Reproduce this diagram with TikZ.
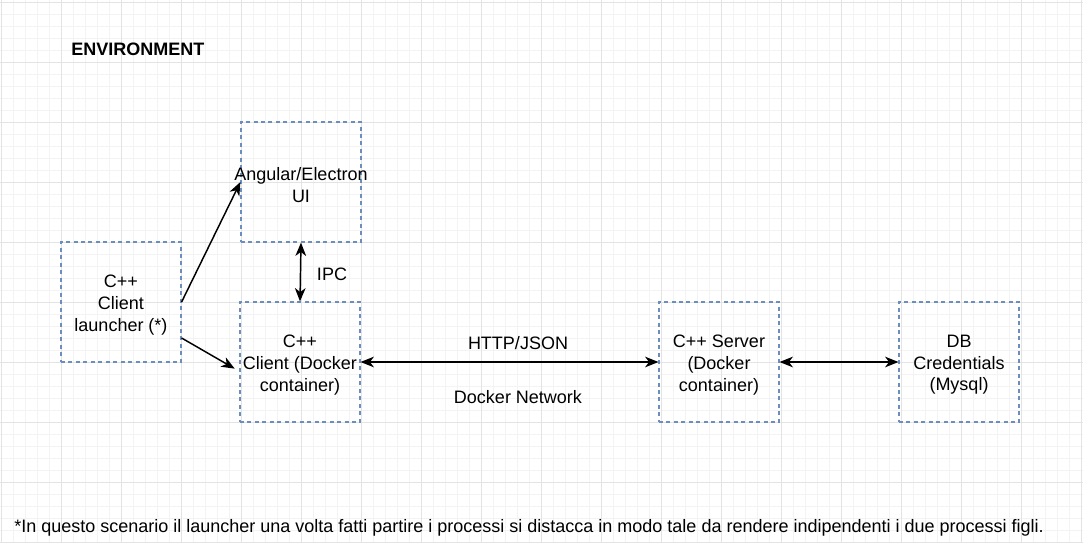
\documentclass[tikz,border=0pt]{standalone}
\usepackage{fontspec}
\setmainfont{Liberation Sans}
\usetikzlibrary{arrows.meta}
\definecolor{boxline}{HTML}{6C8EBF}
\definecolor{gridmajor}{HTML}{E3E3E3}
\definecolor{gridminor}{HTML}{F3F3F3}
\tikzset{
  px/.style={x=0.75pt,y=-0.75pt},
  dbox/.style={draw=boxline, line width=0.9pt, dash pattern=on 3pt off 2.6pt,
    minimum width=90pt, minimum height=90pt, inner sep=0pt},
  lbl/.style={inner sep=0pt, align=center, font=\fontsize{13.5}{16.2}\selectfont},
  tip/.tip={Stealth[length=10pt,width=8pt,inset=3pt]},
  conn/.style={line width=1.1pt, draw=black, -tip},
  bconn/.style={line width=1.1pt, draw=black, tip-tip},
}
\begin{document}
\begin{tikzpicture}[px]
\fill[white] (0,0) rectangle (1083,543);
\useasboundingbox (0,0) rectangle (1083,543);
% grid
\foreach \x in {1,13,...,1081} \draw[gridminor, line width=0.75pt] (\x,0) -- (\x,543);
\foreach \y in {2,14,...,542} \draw[gridminor, line width=0.75pt] (0,\y) -- (1083,\y);
\foreach \x in {1,61,...,1081} \draw[gridmajor, line width=0.75pt] (\x,0) -- (\x,543);
\foreach \y in {2,62,...,542} \draw[gridmajor, line width=0.75pt] (0,\y) -- (1083,\y);

\node[lbl, anchor=west, font=\fontsize{13.5}{16.2}\selectfont\bfseries] (env) at (71,49) {ENVIRONMENT};

\node[dbox] (ui) at (301,182) {};
\node[dbox] (launcher) at (121,302) {};
\node[dbox] (client) at (300,362) {};
\node[dbox] (server) at (719,362) {};
\node[dbox] (db) at (959,362) {};

\node[lbl] (uit) at (301,185) {Angular/Electron\\UI};
\node[lbl] (launchert) at (121,305) {C++\\Client\\launcher (*)};
\node[lbl] (clientt) at (300,365) {C++\\Client (Docker\\container)};
\node[lbl] (servert) at (719,365) {C++ Server\\(Docker\\container)};
\node[lbl] (dbt) at (959,365) {DB\\Credentials\\(Mysql)};

\draw[conn] (launcher.east) -- (ui.west);
\draw[conn] ([yshift=-27pt]launcher.east) -- ([xshift=-3.5pt,yshift=-5pt]client.west);
\draw[bconn] (ui.south) -- (client.north);
\draw[bconn] (client.east) -- (server.west);
\draw[bconn] (server.east) -- (db.west);

\node[lbl] (ipc) at (332,274) {IPC};
\node[lbl] (http) at (518,343) {HTTP/JSON};
\node[lbl] (net) at (518,397) {Docker Network};

\node[lbl, anchor=west] (note) at (14,528) {*In questo scenario il launcher una volta fatti partire i processi si distacca in modo tale da rendere indipendenti i due processi figli.};
\end{tikzpicture}
\end{document}
